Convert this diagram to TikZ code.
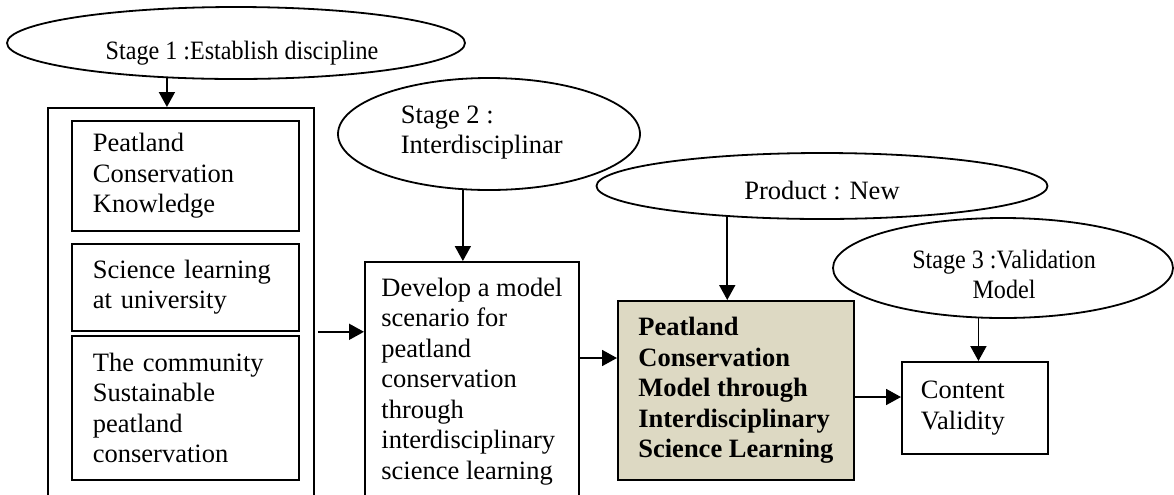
\documentclass[tikz,border=0pt]{standalone}
\usepackage{fontspec}
\setmainfont{Liberation Serif}
\newfontfamily\narrowfont[FakeStretch=0.91]{Liberation Serif}
\usetikzlibrary{shapes.geometric}
\usetikzlibrary{arrows.meta}
\definecolor{beige}{RGB}{221,217,195}

\begin{document}
\fontsize{13.25}{15.25}\selectfont
\begin{tikzpicture}[x=0.5pt, y=-0.5pt, line width=0.9pt,
    box/.style={draw, rectangle, anchor=north west, align=left, inner ysep=0pt},
    stage/.style={draw, ellipse, inner sep=0pt},
    arr/.style={-{Triangle[length=7.5pt, width=8pt]}}]

    \clip (0,0) rectangle (1174,494);

    % Ellipsen oben
    \node[stage, minimum width=229pt, minimum height=36pt] (s1) at (236,43) {};
    \node[stage, minimum width=151pt, minimum height=56pt] (s2) at (489,134) {};
    \node[stage, minimum width=225.5pt, minimum height=33pt] (s3) at (822,186) {};
    \node[stage, minimum width=170pt, minimum height=50pt] (s4) at (1003,268) {};

    \node[anchor=base, font=\narrowfont] (t1) at (242,59) {Stage 1 :Establish discipline};
    \node[anchor=north west, align=left, inner sep=0pt] (t2) at (400,105) {Stage 2 :\\Interdisciplinar};
    \node[anchor=base] (t3) at (822,199) {Product : New};
    \node[anchor=north, align=center, inner sep=0pt, font=\narrowfont] (t4) at (1004,249) {Stage 3 :Validation\\Model};

    % Kaesten
    \node[box, minimum width=133pt, minimum height=210pt] (disc) at (47,107) {};
    \node[box, text width=92.5pt, inner xsep=10.5pt, minimum height=55pt] (k1) at (71,120) {Peatland\\Conservation\\Knowledge};
    \node[box, text width=92.5pt, inner xsep=10.5pt, minimum height=43.5pt] (k2) at (71,243) {Science learning\\at university};
    \node[box, text width=92.5pt, inner xsep=10.5pt, minimum height=72pt] (k3) at (71,335) {The community\\Sustainable\\peatland\\conservation};

    \node[box, minimum width=107pt, inner xsep=0pt, inner ysep=8pt] (dev) at (364,261) {Develop a model\\scenario for\\peatland\\conservation\\through\\interdisciplinary\\science learning};
    \node[box, fill=beige, font=\bfseries, minimum width=118pt, inner xsep=0pt, minimum height=89.5pt] (prod) at (617,300) {Peatland\\Conservation\\Model through\\Interdisciplinary\\Science Learning};
    \node[box, text width=54pt, inner xsep=9.5pt, minimum height=46pt] (cv) at (901,361) {Content\\Validity};

    % Pfeile
    \foreach \e/\w/\z in {s1/207/disc, s2/245/dev, s3/198/prod, s4/244/cv}{
        \draw[arr] (\e.\w) -- (\e.\w |- \z.north);
    }

    \coordinate (p1) at ([yshift=-29pt]prod.north west);
    \coordinate (p2) at ([yshift=-48.5pt]prod.north east);

    \draw[arr] ([xshift=1.5pt]disc.east |- k2.south) -- (dev.west |- k2.south);
    \draw[arr] (dev.east |- p1) -- (p1);
    \draw[arr] (p2) -- (cv.west |- p2);

\end{tikzpicture}
\end{document}
